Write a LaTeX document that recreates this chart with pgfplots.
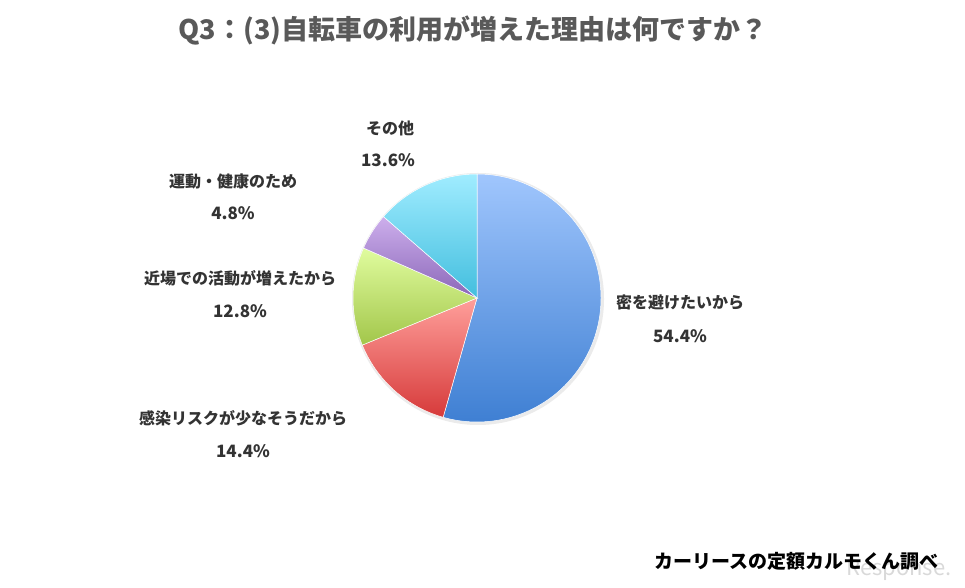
\documentclass[border=0pt]{standalone}
\usepackage{fontspec}
\setmainfont{Noto Sans CJK JP}
\usepackage{pgfplots}
\usepackage{pgfplotstable}
\pgfplotsset{compat=1.18}

% shares in %, clockwise from 12 o'clock
\pgfplotstableread{
share
54.4
14.4
12.8
4.8
13.6
}\piedata

\definecolor{titlegray}{HTML}{595959}
\definecolor{labgray}{HTML}{333333}
\definecolor{blueT}{HTML}{A0C6FD}
\definecolor{blueB}{HTML}{3D7ED2}
\definecolor{redT}{HTML}{FF9F9B}
\definecolor{redB}{HTML}{D63A3A}
\definecolor{greenT}{HTML}{E0FC9E}
\definecolor{greenB}{HTML}{A2C64A}
\definecolor{purpT}{HTML}{CDAFEC}
\definecolor{purpB}{HTML}{8A66B8}
\definecolor{cyanT}{HTML}{A0ECFF}
\definecolor{cyanB}{HTML}{42BEDE}

\newcommand\slice[3]{%
  \path[top color=#2, bottom color=#3, draw=white, line width=0.5pt]
    (axis cs:477,290) -- ++(\csname a#1\endcsname:124pt)
    arc[start angle=\csname a#1\endcsname, end angle=\csname b#1\endcsname, radius=124pt]
    -- cycle;}

\begin{document}
\begin{tikzpicture}
\pgfmathsetmacro\cur{90}
\pgfplotsforeachungrouped \i in {0,...,4}{%
  \pgfplotstablegetelem{\i}{share}\of\piedata
  \pgfmathsetmacro\nxt{\cur-3.6*\pgfplotsretval}%
  \expandafter\xdef\csname a\i\endcsname{\cur}%
  \expandafter\xdef\csname b\i\endcsname{\nxt}%
  \global\let\cur\nxt
}
\begin{axis}[
    width=965pt, height=588pt,
    scale only axis,
    hide axis,
    xmin=0, xmax=965,
    ymin=0, ymax=588,
    clip=false,
    ]
    \fill[white] (rel axis cs:0,0) rectangle (rel axis cs:1,1);
    \fill[black!8] (axis cs:478,289) circle[radius=126pt];

    \slice{0}{blueT}{blueB}
    \slice{1}{redT}{redB}
    \slice{2}{greenT}{greenB}
    \slice{3}{purpT}{purpB}
    \slice{4}{cyanT}{cyanB}

    \node[text=titlegray, font=\fontsize{27}{30}\selectfont\bfseries] at (axis cs:473,557) {Q3：(3)自転車の利用が増えた理由は何ですか？};

    \begin{scope}[every node/.style={text=labgray, font=\fontsize{16}{18}\selectfont\bfseries}]
    \node at (axis cs:390,460) {その他};
    \node[font=\fontsize{17}{19}\selectfont\bfseries] at (axis cs:388,428) {13.6\%};
    \node at (axis cs:233,407) {運動・健康のため};
    \node[font=\fontsize{17}{19}\selectfont\bfseries] at (axis cs:233,375) {4.8\%};
    \node at (axis cs:240,310) {近場での活動が増えたから};
    \node[font=\fontsize{17}{19}\selectfont\bfseries] at (axis cs:240,277) {12.8\%};
    \node at (axis cs:243,170) {感染リスクが少なそうだから};
    \node[font=\fontsize{17}{19}\selectfont\bfseries] at (axis cs:243,137) {14.4\%};
    \node at (axis cs:680,286) {密を避けたいから};
    \node[font=\fontsize{17}{19}\selectfont\bfseries] at (axis cs:680,252) {54.4\%};
    \end{scope}

    \node[text=black!15, font=\fontsize{22}{24}\selectfont\itshape, anchor=east] at (axis cs:955,18) {Response.};
    \node[text=black, font=\fontsize{19}{21}\selectfont\bfseries, anchor=east] at (axis cs:942,27) {カーリースの定額カルモくん調べ};
\end{axis}
\end{tikzpicture}
\end{document}
